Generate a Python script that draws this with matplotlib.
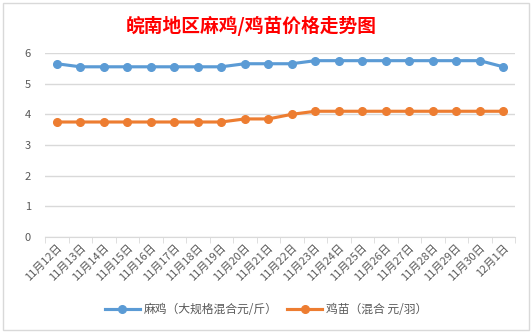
import matplotlib
matplotlib.use("Agg")
import matplotlib.pyplot as plt
from matplotlib.patches import Rectangle

plt.rcParams['font.family'] = ['Noto Sans CJK SC', 'DejaVu Sans']

# 数据
dates = ['11月12日', '11月13日', '11月14日', '11月15日', '11月16日', '11月17日',
         '11月18日', '11月19日', '11月20日', '11月21日', '11月22日', '11月23日',
         '11月24日', '11月25日', '11月26日', '11月27日', '11月28日', '11月29日',
         '11月30日', '12月1日']
maji = [5.65, 5.55, 5.55, 5.55, 5.55, 5.55, 5.55, 5.55, 5.65, 5.65,
        5.65, 5.75, 5.75, 5.75, 5.75, 5.75, 5.75, 5.75, 5.75, 5.55]
jimiao = [3.75, 3.75, 3.75, 3.75, 3.75, 3.75, 3.75, 3.75, 3.85, 3.85,
          4.0, 4.1, 4.1, 4.1, 4.1, 4.1, 4.1, 4.1, 4.1, 4.1]
yticks = [0, 1, 2, 3, 4, 5, 6]

fig = plt.figure(figsize=(5.32, 3.33), dpi=100)
fig.patches.append(Rectangle((3 / 532, 3 / 333), 526 / 532, 327 / 333,
                             transform=fig.transFigure, fill=False,
                             edgecolor='#D9D9D9', linewidth=1))

ax = fig.add_axes([45 / 532, 96 / 333, 470 / 532, 184 / 333])
x = list(range(len(dates)))
ax.plot(x, maji, color='#5B9BD5', linewidth=2.25, marker='o', markersize=5.5,
        label='麻鸡（大规格混合元/斤）')
ax.plot(x, jimiao, color='#ED7D31', linewidth=2.25, marker='o', markersize=5.5,
        label='鸡苗（混合 元/羽）')

ax.set_xlim(-0.5, len(dates) - 0.5)
ax.set_ylim(0, 6)
ax.set_yticks(yticks)
ax.grid(axis='y', color='#D9D9D9', linewidth=1)
ax.set_axisbelow(True)
for s in ['top', 'right', 'left']:
    ax.spines[s].set_visible(False)
ax.spines['bottom'].set_color('#D9D9D9')

ax.set_xticks(x)
ax.set_xticklabels(dates, rotation=45, ha='right', rotation_mode='anchor',
                   fontsize=8, color='#595959')
ax.tick_params(axis='x', length=0, pad=4)
ax.set_xticks([i - 0.5 for i in range(len(dates) + 1)], minor=True)
ax.tick_params(axis='x', which='minor', length=4, color='#D9D9D9')
ax.tick_params(axis='y', length=0, labelsize=8, labelcolor='#595959', pad=10)

fig.text(0.472, 0.922, '皖南地区麻鸡/鸡苗价格走势图', ha='center', va='center',
         fontsize=13.5, fontweight='bold', color='#FF0000')

fig.legend(loc='center', bbox_to_anchor=(0.5, 0.07), ncol=2, frameon=False,
           fontsize=8.5, labelcolor='#595959', handlelength=3, columnspacing=0.8,
           handletextpad=0.3)

fig.savefig('out.png', dpi=100)
